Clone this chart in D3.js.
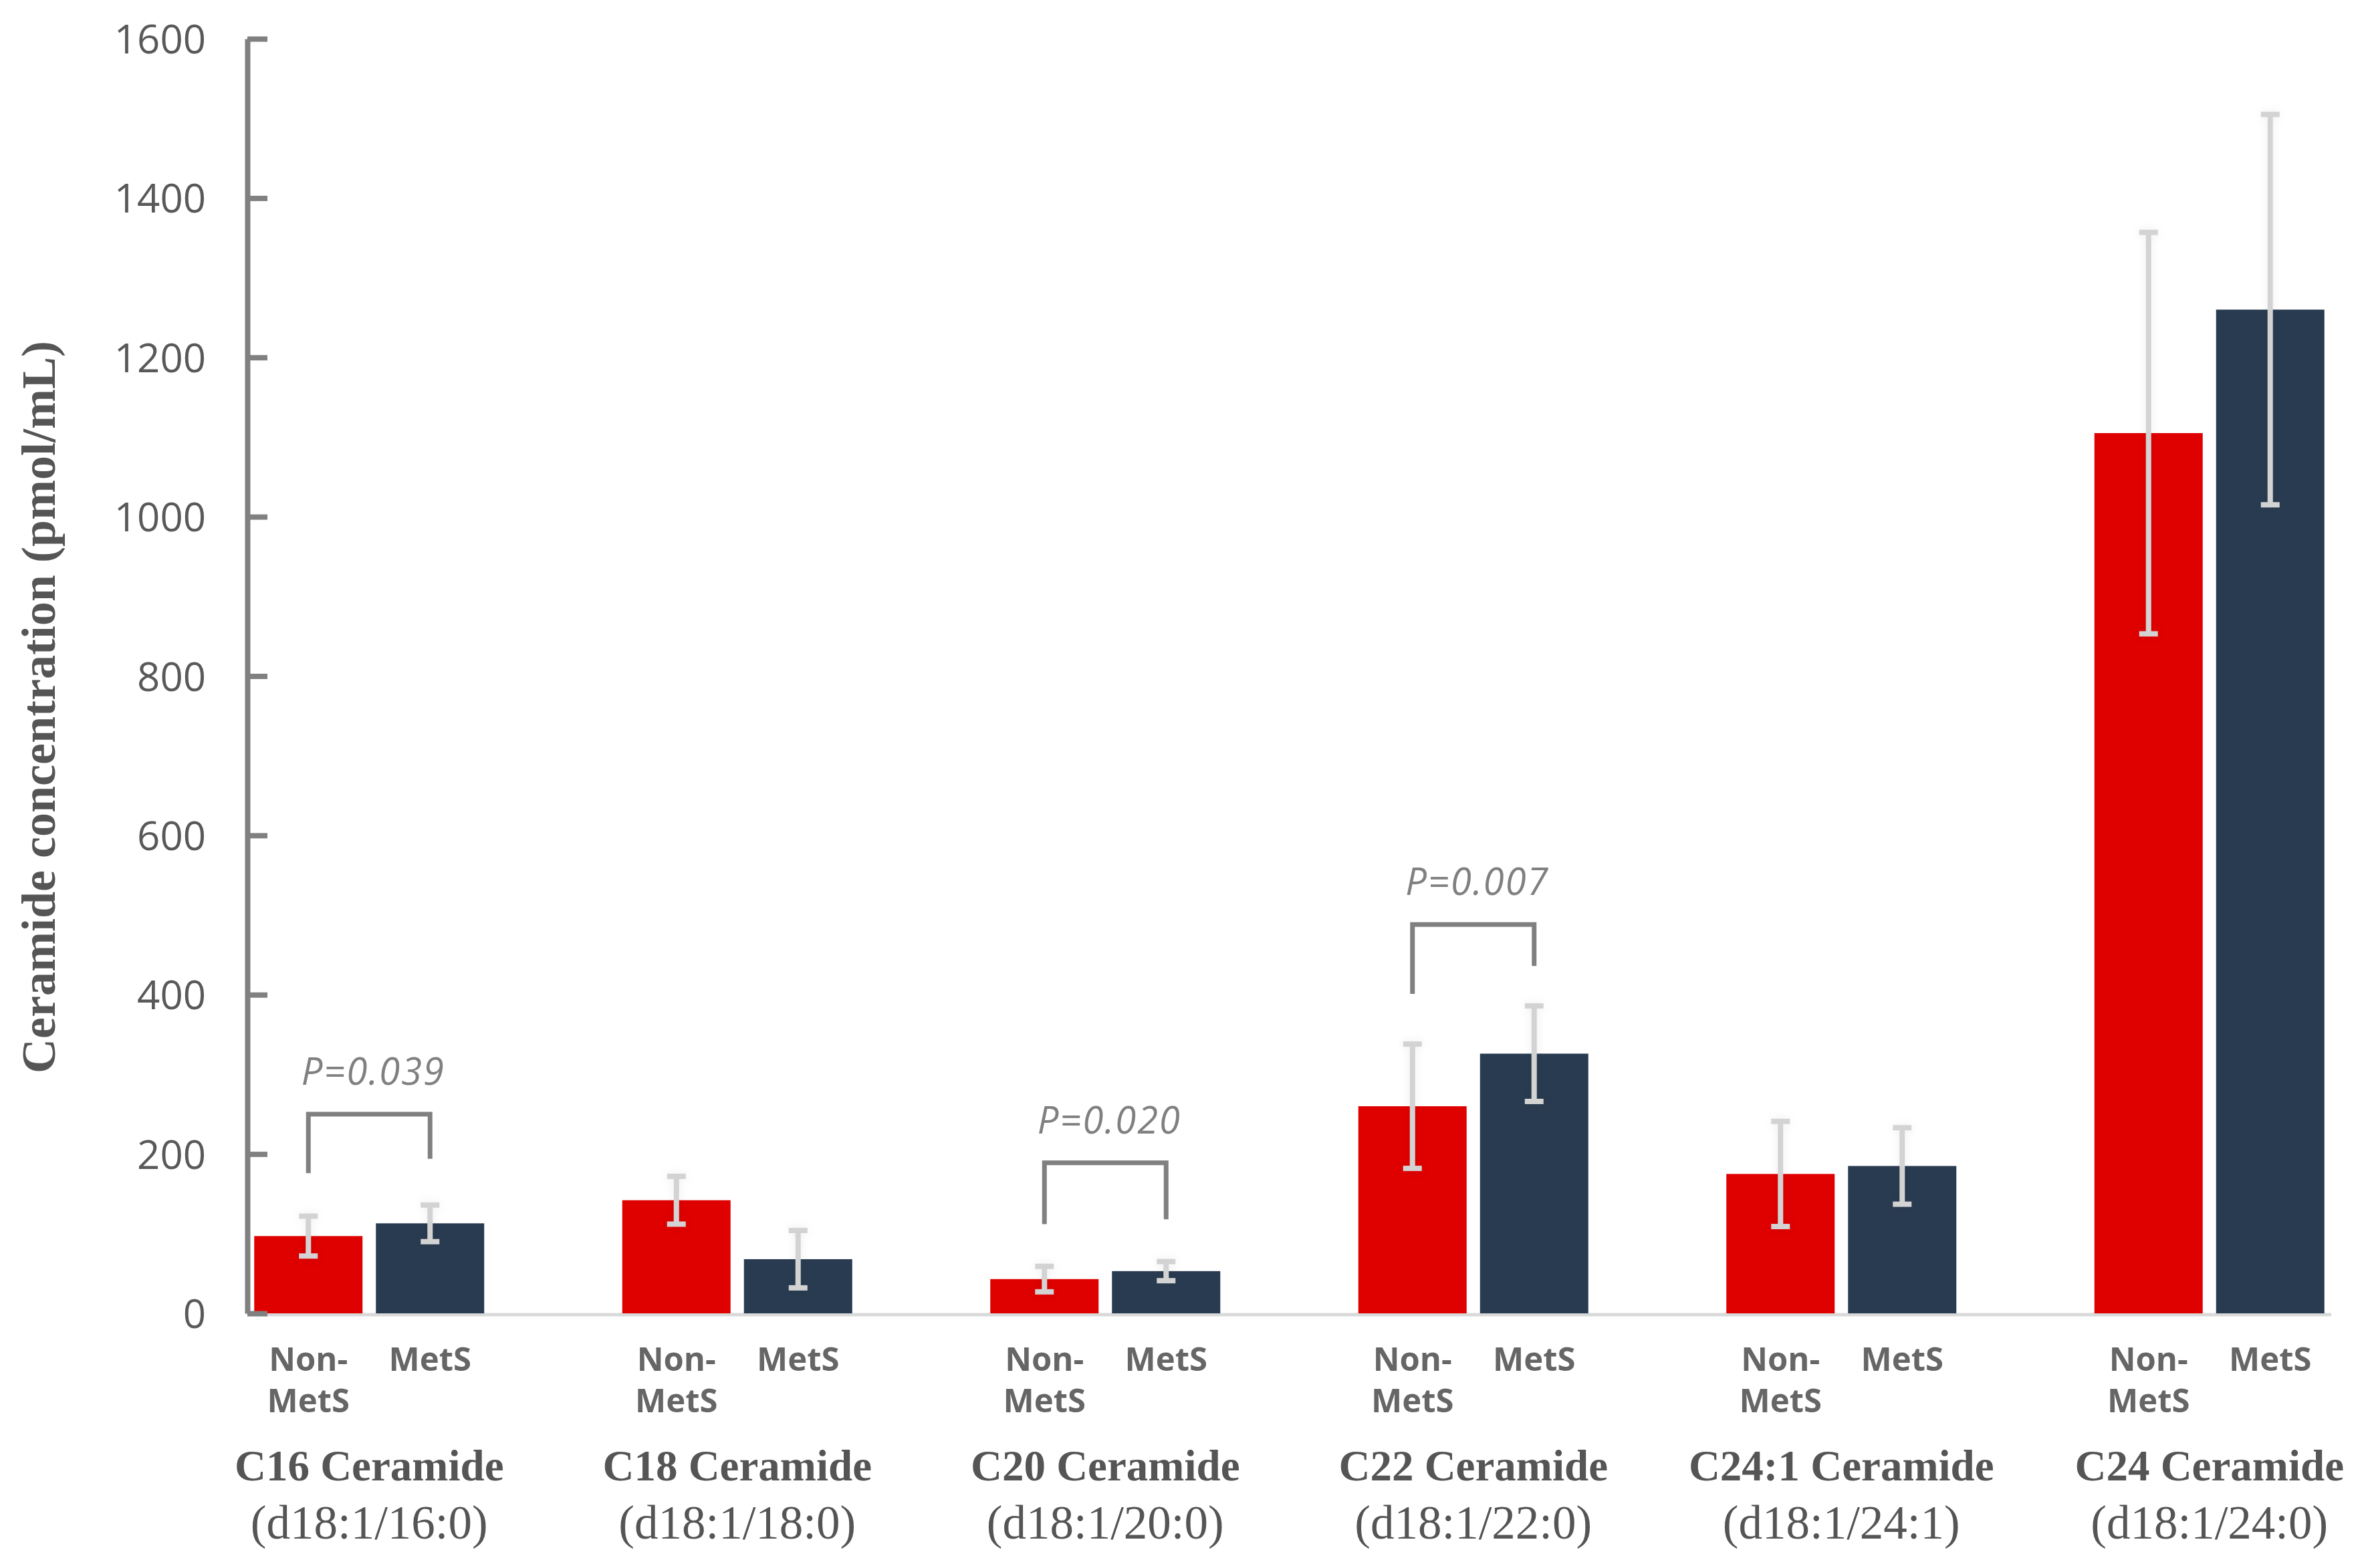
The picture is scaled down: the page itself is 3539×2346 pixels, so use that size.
<!DOCTYPE html>
<html>
<head lang="en">
  <meta charset="UTF-8">
  <title>Ceramide concentration</title>
  <script src="https://cdn.jsdelivr.net/npm/d3@7/dist/d3.min.js"></script>
  <style>
    body { margin: 0; background: #fff; }
    svg { display: block; }
  </style>
</head>
<body>
  <script type="text/javascript">
    // data
    var categories = ['C16 Ceramide', 'C18 Ceramide', 'C20 Ceramide',
                      'C22 Ceramide', 'C24:1 Ceramide', 'C24 Ceramide'];
    var subLabels = ['(d18:1/16:0)', '(d18:1/18:0)', '(d18:1/20:0)',
                     '(d18:1/22:0)', '(d18:1/24:1)', '(d18:1/24:0)'];
    var groups = ['Non-MetS', 'MetS'];
    var nonMets = [97, 142, 43, 260, 175, 1105];
    var nonMetsSd = [25, 30, 16, 78, 66, 252];
    var mets = [113, 68, 53, 326, 185, 1260];
    var metsSd = [23, 36, 12, 60, 48, 245];
    var yTicks = [0, 200, 400, 600, 800, 1000, 1200, 1400, 1600];

    // significance brackets: category, bracket top, left leg end, right leg end
    var pCats = ['C16 Ceramide', 'C20 Ceramide', 'C22 Ceramide'];
    var pTop = [250, 189, 488];
    var pLeft = [176, 112, 401];
    var pRight = [194, 118, 436];
    var pText = ['P=0.039', 'P=0.020', 'P=0.007'];

    var W = 3539, H = 2346;
    var colors = { 'Non-MetS': '#df0000', 'MetS': '#293b50' };

    var svg = d3.select('body').append('svg')
        .attr('width', W)
        .attr('height', H);

    var defs = svg.append('defs');
    var glow = defs.append('filter').attr('id', 'glow')
        .attr('x', '-200%').attr('y', '-20%').attr('width', '500%').attr('height', '140%');
    glow.append('feGaussianBlur').attr('in', 'SourceAlpha').attr('stdDeviation', 7).attr('result', 'b');
    glow.append('feFlood').attr('flood-color', '#000').attr('flood-opacity', 0.07).attr('result', 'c');
    glow.append('feComposite').attr('in', 'c').attr('in2', 'b').attr('operator', 'in').attr('result', 's');
    var merge = glow.append('feMerge');
    merge.append('feMergeNode').attr('in', 's');
    merge.append('feMergeNode').attr('in', 'SourceGraphic');

    var y = d3.scaleLinear().domain([0, 1600]).range([1965, 58]);
    var x = d3.scaleBand().domain(categories).range([277, 277 + 550.5 * 6]);
    var half = x.bandwidth() / 2;
    var xSub = d3.scaleBand().domain(groups)
        .range([half - 172, half + 172]).paddingInner(0.11);

    var rows = categories.map(function (c, i) {
      return [
        { cat: c, grp: 'Non-MetS', v: nonMets[i], sd: nonMetsSd[i] },
        { cat: c, grp: 'MetS', v: mets[i], sd: metsSd[i] }
      ];
    });
    var flat = [].concat.apply([], rows);

    // baseline
    svg.append('line')
        .attr('x1', 370).attr('x2', 3487)
        .attr('y1', y(0) + 2).attr('y2', y(0) + 2)
        .attr('stroke', '#d9d9d9').attr('stroke-width', 5);

    // bars
    svg.append('g').selectAll('rect')
        .data(flat)
        .enter().append('rect')
        .attr('x', function (d) { return x(d.cat) + xSub(d.grp); })
        .attr('y', function (d) { return y(d.v); })
        .attr('width', xSub.bandwidth())
        .attr('height', function (d) { return y(0) - y(d.v); })
        .attr('fill', function (d) { return colors[d.grp]; });

    // error bars
    var eb = svg.append('g').attr('filter', 'url(#glow)')
        .selectAll('g').data(flat).enter().append('g')
        .attr('stroke', '#d3d3d3');
    function cx(d) { return x(d.cat) + xSub(d.grp) + xSub.bandwidth() / 2; }
    eb.append('line')
        .attr('x1', cx).attr('x2', cx)
        .attr('y1', function (d) { return y(d.v + d.sd); })
        .attr('y2', function (d) { return y(d.v - d.sd); })
        .attr('stroke-width', 8);
    eb.append('line')
        .attr('x1', function (d) { return cx(d) - 14; })
        .attr('x2', function (d) { return cx(d) + 14; })
        .attr('y1', function (d) { return y(d.v + d.sd); })
        .attr('y2', function (d) { return y(d.v + d.sd); })
        .attr('stroke-width', 8);
    eb.append('line')
        .attr('x1', function (d) { return cx(d) - 14; })
        .attr('x2', function (d) { return cx(d) + 14; })
        .attr('y1', function (d) { return y(d.v - d.sd); })
        .attr('y2', function (d) { return y(d.v - d.sd); })
        .attr('stroke-width', 8);

    // y axis, ticks pointing inside
    var yAxis = d3.axisLeft(y)
        .tickValues(yTicks)
        .tickSizeInner(-30)
        .tickSizeOuter(0)
        .tickPadding(62)
        .tickFormat(d3.format('d'));
    var ga = svg.append('g')
        .attr('transform', 'translate(370,0)')
        .call(yAxis);
    ga.select('.domain').attr('stroke', '#808080').attr('stroke-width', 8);
    ga.selectAll('.tick line').attr('stroke', '#808080').attr('stroke-width', 8);
    ga.selectAll('.tick text')
        .attr('fill', '#595959')
        .style('font-family', '"Open Sans", "Noto Sans", sans-serif')
        .style('font-size', '60px')
        .attr('dy', '0.36em');

    // y axis title
    svg.append('text')
        .attr('transform', 'translate(82,1058) rotate(-90)')
        .attr('text-anchor', 'middle')
        .attr('fill', '#555555')
        .style('font-family', '"Liberation Serif", "Times New Roman", serif')
        .style('font-weight', 'bold')
        .style('font-size', '72px')
        .text('Ceramide concentration (pmol/mL)');

    // group labels under each bar
    var lab = svg.append('g')
        .style('font-family', '"Open Sans", "Noto Sans", sans-serif')
        .style('font-weight', 700)
        .style('font-size', '49px')
        .attr('fill', '#666666')
        .attr('text-anchor', 'middle');
    flat.forEach(function (d) {
      var t = lab.append('text').attr('x', cx(d)).attr('y', 2051);
      if (d.grp === 'Non-MetS') {
        t.append('tspan').attr('x', cx(d)).text('Non-');
        t.append('tspan').attr('x', cx(d)).attr('dy', 62).text('MetS');
      } else {
        t.text('MetS');
      }
    });

    // category labels
    var cl = svg.append('g')
        .attr('fill', '#555555')
        .attr('text-anchor', 'middle')
        .style('font-family', '"Liberation Serif", "Times New Roman", serif');
    categories.forEach(function (c, i) {
      var mx = x(c) + half;
      cl.append('text').attr('x', mx).attr('y', 2215)
          .style('font-weight', 'bold').style('font-size', '65px')
          .text(c);
      cl.append('text').attr('x', mx).attr('y', 2302)
          .style('font-size', '71px')
          .text(subLabels[i]);
    });

    // significance brackets
    var br = svg.append('g');
    pCats.forEach(function (c, i) {
      var xl = x(c) + xSub('Non-MetS') + xSub.bandwidth() / 2;
      var xr = x(c) + xSub('MetS') + xSub.bandwidth() / 2;
      br.append('path')
          .attr('d', 'M' + xl + ',' + y(pLeft[i]) + 'V' + y(pTop[i]) +
                     'H' + xr + 'V' + y(pRight[i]))
          .attr('fill', 'none')
          .attr('stroke', '#808080')
          .attr('stroke-width', 7);
      br.append('text')
          .attr('x', (xl + xr) / 2 + 6)
          .attr('y', y(pTop[i]) - 44)
          .attr('text-anchor', 'middle')
          .attr('fill', '#808080')
          .style('font-family', '"Open Sans", "Noto Sans", sans-serif')
          .style('font-style', 'italic')
          .style('font-size', '56px')
          .style('letter-spacing', '2px')
          .text(pText[i]);
    });
  </script>
</body>
</html>
